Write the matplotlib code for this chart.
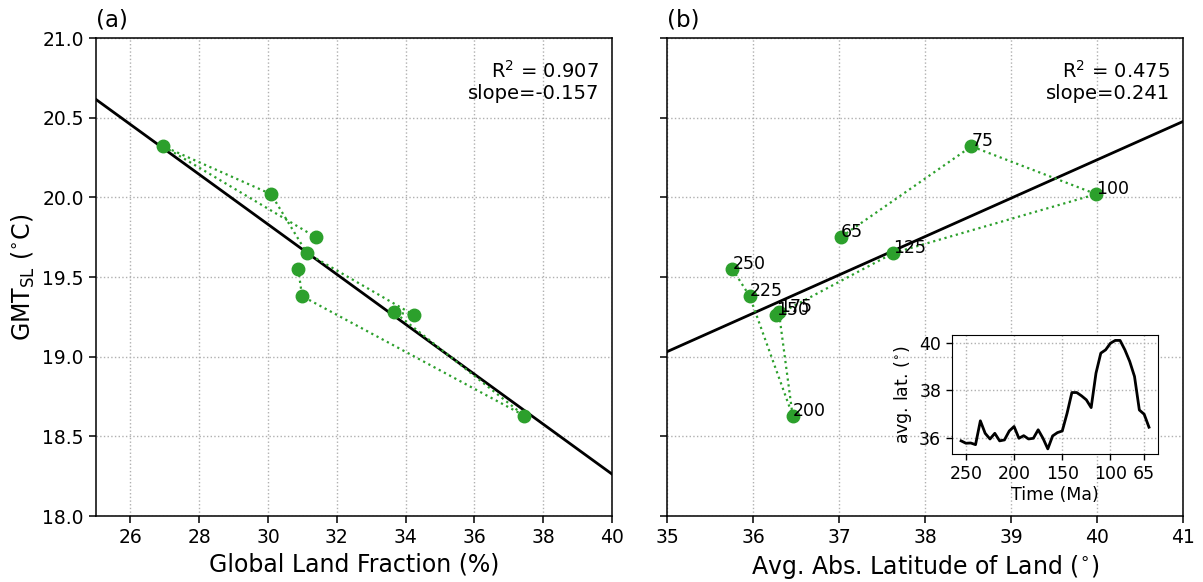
import numpy as np
import matplotlib.pyplot as plt

# snapshot ages (Ma) and values
ages = [250, 225, 200, 175, 150, 125, 100, 75, 65]
gmt_sl = [19.55, 19.38, 18.63, 19.28, 19.26, 19.65, 20.02, 20.32, 19.75]
land_frac = [30.88, 30.99, 37.45, 33.67, 34.25, 31.13, 30.09, 26.96, 31.39]
abs_lat = [35.76, 35.96, 36.46, 36.30, 36.27, 37.63, 39.99, 38.54, 37.02]

# inset time series of average land latitude
ts_time = [255, 250, 245, 240, 235, 230, 225, 220, 215, 210,
           205, 200, 195, 190, 185, 180, 175, 170, 165, 160,
           155, 150, 145, 140, 135, 130, 125, 120, 115, 110,
           105, 100, 95, 90, 85, 80, 75, 70, 65, 60]
ts_lat = [35.86, 35.76, 35.77, 35.70, 36.71, 36.18, 35.94, 36.18, 35.86, 35.90,
          36.28, 36.47, 35.97, 36.08, 35.94, 35.97, 36.33, 35.97, 35.52, 36.07,
          36.21, 36.28, 37.03, 37.91, 37.91, 37.77, 37.60, 37.27, 38.73, 39.58,
          39.72, 40.00, 40.12, 40.12, 39.72, 39.23, 38.59, 37.17, 36.99, 36.44]

green = '#2ca02c'

fig = plt.figure(figsize=(12.03, 5.82), dpi=100)
ax1 = fig.add_axes([0.0798, 0.1134, 0.4289, 0.8213])
ax2 = fig.add_axes([0.5545, 0.1134, 0.4289, 0.8213], sharey=ax1)

def panel(ax, x, xlim, label, stats):
    p = np.polyfit(x, gmt_sl, 1)
    xx = np.array(xlim)
    ax.plot(xx, np.polyval(p, xx), color='k', lw=2, zorder=2)
    ax.plot(x, gmt_sl, ':', color=green, lw=1.6, zorder=2)
    ax.plot(x, gmt_sl, 'o', color=green, ms=9, zorder=3)
    ax.set_xlim(xlim)
    ax.grid(True, ls=':', color='#b0b0b0', lw=1)
    ax.set_title(label, loc='left', fontsize=16.5, pad=8)
    ax.text(0.975, 0.955, stats, transform=ax.transAxes, ha='right', va='top',
            fontsize=14, linespacing=1.15)
    ax.tick_params(labelsize=13.5, length=5.3, width=1.1)
    for s in ax.spines.values():
        s.set_linewidth(1.1)

panel(ax1, land_frac, (25, 40), '(a)', 'R$^2$ = 0.907\nslope=-0.157')
panel(ax2, abs_lat, (35, 41), '(b)', 'R$^2$ = 0.475\nslope=0.241')

ax1.set_ylim(18, 21)
ax1.set_yticks(np.arange(18, 21.01, 0.5))
ax1.set_xticks(np.arange(26, 41, 2))
ax2.set_xticks(np.arange(35, 42, 1))
plt.setp(ax2.get_yticklabels(), visible=False)

ax1.set_xlabel('Global Land Fraction (%)', fontsize=17)
ax1.set_ylabel('GMT$_{\\mathrm{SL}}$ ($^{\\circ}$C)', fontsize=17)
ax2.set_xlabel('Avg. Abs. Latitude of Land ($^{\\circ}$)', fontsize=17)

for a, x, y in zip(ages, abs_lat, gmt_sl):
    ax2.text(x, y, str(a), fontsize=12.5)

# inset
axi = fig.add_axes([0.7911, 0.2194, 0.1718, 0.2050])
axi.plot(ts_time, ts_lat, color='k', lw=2)
axi.invert_xaxis()
axi.set_xticks([250, 200, 150, 100, 65])
axi.set_yticks([36, 38, 40])
axi.grid(True, ls=':', color='#b0b0b0', lw=1)
axi.tick_params(labelsize=12.5, length=4, width=1)
axi.set_xlabel('Time (Ma)', fontsize=12.5, labelpad=2)
axi.set_ylabel('avg. lat. ($^{\\circ}$)', fontsize=12.5, labelpad=4)

fig.savefig('out.png', dpi=100)
